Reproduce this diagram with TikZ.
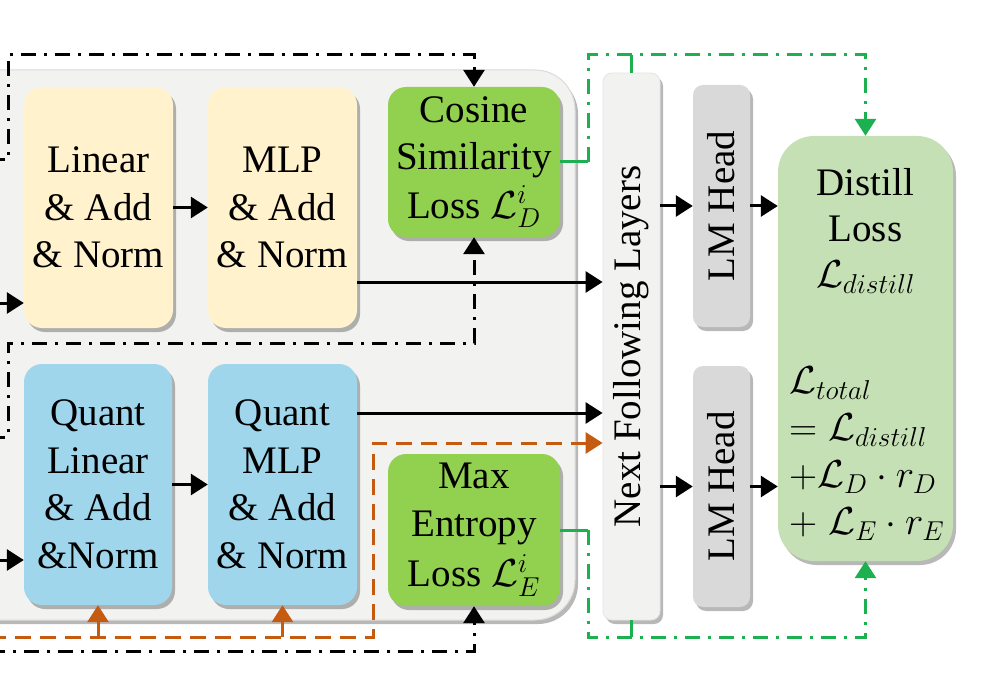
\documentclass[tikz,border=0pt]{standalone}
\usepackage{fix-cm}
\usepackage{fontspec}
\setmainfont{Liberation Serif}
\usetikzlibrary{arrows.meta,shadows,calc}
\definecolor{creamc}{HTML}{FFF2CC}
\definecolor{bluec}{HTML}{A0D6EC}
\definecolor{lossc}{HTML}{92D050}
\definecolor{distc}{HTML}{C5E0B4}
\definecolor{lmc}{HTML}{D9D9D9}
\definecolor{panelc}{HTML}{F2F2F1}
\definecolor{greenl}{HTML}{1DB050}
\definecolor{orangel}{HTML}{C55A11}
\begin{document}
\begin{tikzpicture}[x=1pt,y=-1pt,
  shad/.style={drop shadow={shadow xshift=3pt,shadow yshift=-4pt,fill=black,opacity=0.28}},
  box/.style={shad,rounded corners=18pt,align=center,inner sep=0pt,
    font=\fontsize{39}{47.5}\selectfont},
  vbox/.style={shad,inner sep=0pt,font=\fontsize{39}{47}\selectfont},
  txt/.style={inner sep=0pt,font=\fontsize{39}{46}\selectfont},
  tip/.style={-{Triangle[length=17pt,width=21pt]}},
  arr/.style={line width=3pt,tip},
  kline/.style={line width=3pt,dash pattern=on 15pt off 8pt on 3pt off 8pt},
  gline/.style={line width=3pt,greenl,dash pattern=on 15pt off 8pt on 3pt off 8pt},
  oline/.style={line width=3pt,orangel,dash pattern=on 16pt off 9pt},
]
\useasboundingbox (0,0) rectangle (986,698);
% panel
\fill[panelc,draw=black!14,line width=1pt,rounded corners=40pt,shad] (-80,70) rectangle (575,620);
% boxes
\node[box,fill=creamc,minimum width=149pt,minimum height=241pt] (lin) at (98.5,207.5) {Linear\\\& Add\\\& Norm};
\node[box,fill=creamc,minimum width=149pt,minimum height=241pt] (mlp) at (282.5,207.5) {MLP\\\& Add\\\& Norm};
\node[box,fill=lossc,minimum width=172pt,minimum height=150pt] (cos) at (474,162) {Cosine\\Similarity\\[1pt]Loss $\mathcal{L}_D^i$};
\node[box,fill=bluec,minimum width=148pt,minimum height=241pt] (qlin) at (98,484.5) {Quant\\Linear\\\& Add\\\&Norm};
\node[box,fill=bluec,minimum width=149pt,minimum height=241pt] (qmlp) at (282.5,484.5) {Quant\\MLP\\\& Add\\\& Norm};
\node[box,fill=lossc,minimum width=172pt,minimum height=152pt] (maxe) at (474,530) {Max\\Entropy\\[3pt]Loss $\mathcal{L}_E^i$};
\node[vbox,fill=panelc,draw=black!10,line width=0.8pt,rounded corners=9pt,minimum height=547pt,minimum width=57pt] (next) at (631.5,346.5) {\rotatebox{90}{Next Following Layers}};
\node[vbox,fill=lmc,rounded corners=10pt,minimum height=242pt,minimum width=57pt] (lm1) at (721.5,206) {\rotatebox{90}{LM Head}};
\node[vbox,fill=lmc,rounded corners=10pt,minimum height=241pt,minimum width=57pt] (lm2) at (721.5,486.5) {\rotatebox{90}{LM Head}};
\node[shad,fill=distc,rounded corners=36pt,minimum width=175pt,minimum height=425pt,inner sep=0pt] (dist) at (865.5,348.5) {};
\node[txt,align=center] (dtop) at (865.5,231) {Distill\\Loss\\$\mathcal{L}_{distill}$};
\node[txt,align=left,anchor=west,font=\fontsize{39}{47}\selectfont] (dtot) at (789,454) {$\mathcal{L}_{total}$\\$=\mathcal{L}_{distill}$\\$+\mathcal{L}_D\cdot r_D$\\$+\;\mathcal{L}_E\cdot r_E$};
% coordinates
\coordinate (k1) at (-10,160);
\coordinate (k2) at (8,55);
\coordinate (k3) at (-10,437);
\coordinate (k4) at (8,343);
\coordinate (k5) at (-10,651);
\coordinate (o1) at (-10,637);
\coordinate (o2) at (373,443);
\coordinate (in1) at (-10,303);
\coordinate (in2) at (-10,560);
\coordinate (gt) at (588,55);
\coordinate (gb) at (588,637);
\path (mlp.east) ++(0,74.5) coordinate (m1);
\path (qmlp.east) ++(0,-71.5) coordinate (m2);
% black solid arrows
\draw[arr] (in1) -- (in1 -| lin.west);
\draw[arr] (in2) -- (in2 -| qlin.west);
\draw[arr] (lin.east) -- (mlp.west);
\draw[arr] (qlin.east) -- (qmlp.west);
\draw[arr] (m1) -- (m1 -| next.west);
\draw[arr] (m2) -- (m2 -| next.west);
\draw[arr] (next.east |- lm1.center) -- (lm1.west);
\draw[arr] (lm1.east) -- (lm1.east -| dist.west);
\draw[arr] (next.east |- lm2.center) -- (lm2.west);
\draw[arr] (lm2.east) -- (lm2.east -| dist.west);
% black dash-dot
\draw[kline] (k1) -| (k2) -| ($(cos.north)+(0,-14)$);
\draw[arr] ($(cos.north)+(0,-16)$) -- (cos.north);
\draw[kline] (k3) -| (k4) -| ($(cos.south)+(0,14)$);
\draw[arr] ($(cos.south)+(0,16)$) -- (cos.south);
\draw[kline] (k5) -| ($(maxe.south)+(0,14)$);
\draw[arr] ($(maxe.south)+(0,16)$) -- (maxe.south);
% orange dashed
\draw[oline] (o1) -| (o2) -- ($(o2 -| next.west)+(-14,0)$);
\draw[line width=3pt,orangel,tip] ($(o2 -| next.west)+(-16,0)$) -- (o2 -| next.west);
\draw[line width=3pt,orangel,tip] (qlin.south |- o1) -- (qlin.south);
\draw[line width=3pt,orangel,tip] (qmlp.south |- o1) -- (qmlp.south);
% green dash-dot
\draw[line width=3pt,greenl] (cos.east) -- (cos.east -| gt);
\draw[gline] (cos.east -| gt) -- (gt) -| ($(dist.north)+(0,-14)$);
\draw[line width=3pt,greenl,tip] ($(dist.north)+(0,-16)$) -- (dist.north);
\draw[line width=3pt,greenl] (next.north) -- (next.north |- gt);
\draw[line width=3pt,greenl] (maxe.east) -- (maxe.east -| gb);
\draw[gline] (maxe.east -| gb) -- (gb) -| ($(dist.south)+(0,14)$);
\draw[line width=3pt,greenl,tip] ($(dist.south)+(0,16)$) -- (dist.south);
\draw[line width=3pt,greenl] (next.south) -- (next.south |- gb);
\end{tikzpicture}
\end{document}
